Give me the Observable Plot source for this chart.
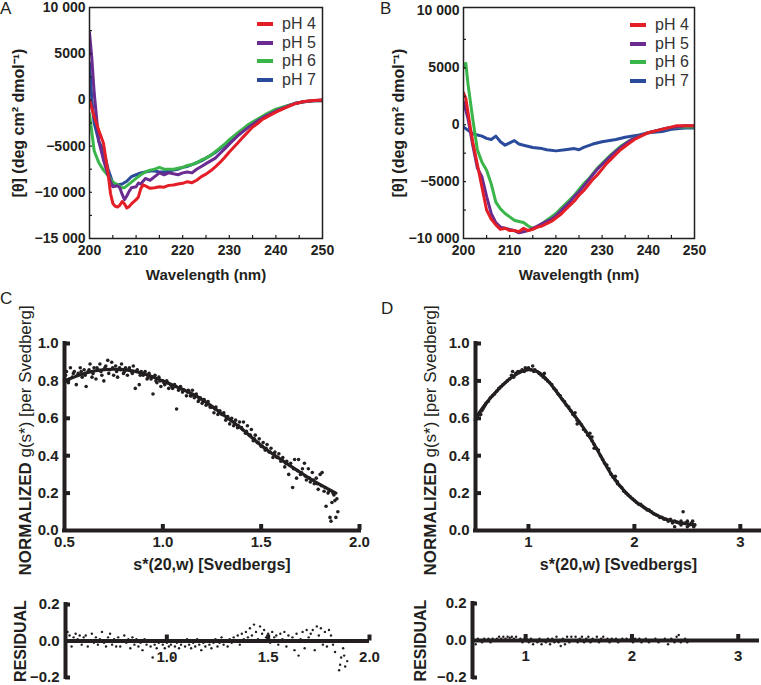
<!DOCTYPE html>
<html><head><meta charset="utf-8">
<script src="https://cdn.jsdelivr.net/npm/d3@7"></script>
<script src="https://cdn.jsdelivr.net/npm/@observablehq/plot@0.6"></script>
<style>
body{margin:0;background:#fff;}
#fig{position:relative;width:761px;height:685px;overflow:hidden;font-family:'Liberation Sans',Arial,Helvetica,sans-serif;color:#231f20;background:#fff;}
#fig svg{position:absolute;}
.letter{position:absolute;font-size:17px;line-height:17px;}
.legend{position:absolute;font-size:16px;line-height:18.5px;color:#333;}
.legend .row{display:flex;align-items:center;height:18.5px;}
.legend .sw{display:inline-block;width:16px;height:4px;margin-right:9px;}
</style></head>
<body><div id="fig"></div>
<script>
// ---------------- DATA ----------------
const phLabels = ["pH 4", "pH 5", "pH 6", "pH 7"];
const phColors = ["#e41e26", "#6a2c90", "#3ab54a", "#2a4b9b"];

const cdXTicks = [200, 210, 220, 230, 240, 250];
const cdXMinor = [205, 210, 215, 220, 225, 230, 235, 240, 245];
const aYDomain = [-15000, 10000];
const aYTicks = [10000, 5000, 0, -5000, -10000, -15000];
const aYMinor = [7500, 5000, 2500, 0, -2500, -5000, -7500, -10000, -12500];
const bYDomain = [-10000, 10300];
const bYTicks = [10000, 5000, 0, -5000, -10000];
const bYMinor = [7500, 5000, 2500, 0, -2500, -5000, -7500];

// Panel A  [wavelength, ellipticity]
const aPH4 = [[200,0],[201,-1800],[202,-3300],[203,-4700],[204,-8000],[204.5,-10100],[205,-11200],[205.5,-11500],[206,-11600],[206.5,-11400],[207,-11000],[207.5,-11250],[208,-11700],[208.5,-11550],[209,-11250],[210,-10800],[210.5,-10500],[211,-9600],[211.5,-9200],[212,-9300],[213,-9570],[214,-9500],[215,-9400],[216,-9450],[217,-9250],[218,-9200],[219,-9100],[220,-9030],[221,-8850],[222,-8960],[223,-8700],[224,-8300],[225,-8030],[226,-7670],[227,-7240],[228,-6770],[229,-6240],[230,-5630],[231,-5100],[232,-4550],[233,-4000],[234,-3480],[235,-2940],[236,-2580],[237,-2150],[238,-1860],[240,-1330],[242,-860],[244,-430],[246,-180],[248,-70],[250,0]];
const aPH5 = [[200,7300],[200.5,4500],[201,800],[202,-4500],[203,-6500],[204,-8200],[205,-9400],[206,-9300],[206.5,-9500],[207,-10200],[207.5,-10800],[208,-10400],[208.5,-9900],[209,-9500],[210,-9400],[210.5,-9000],[211,-9100],[212,-8500],[213,-8700],[214,-8300],[215,-7900],[216,-8100],[217,-7900],[218,-8000],[219,-8100],[220,-7900],[221,-7800],[222,-7900],[223,-7500],[224,-7200],[225,-6900],[226,-6600],[227,-6300],[228,-5800],[229,-5300],[230,-4800],[232,-3800],[234,-3000],[236,-2300],[238,-1700],[240,-1200],[242,-800],[244,-400],[246,-200],[248,-100],[250,-100]];
const aPH6 = [[200,-1500],[200.5,-3500],[201,-5500],[202,-6800],[203,-7600],[204,-8200],[205,-8900],[206,-9200],[207,-9500],[207.5,-9500],[208,-9300],[209,-8900],[210,-8500],[211,-8100],[212,-7800],[213,-7600],[214,-7500],[215,-7300],[216,-7500],[217,-7500],[218,-7500],[219,-7400],[220,-7300],[221,-7100],[222,-7000],[223,-6800],[224,-6500],[225,-6300],[226,-6000],[227,-5600],[228,-5200],[229,-4800],[230,-4300],[232,-3500],[234,-2700],[236,-2100],[238,-1500],[240,-1000],[242,-700],[244,-400],[246,-200],[248,-100],[250,-100]];
const aPH7 = [[200,4000],[200.5,0],[201,-2500],[202,-4500],[203,-5500],[204,-7500],[205,-9000],[206,-9200],[207,-9100],[208,-8800],[209,-8300],[210,-8100],[211,-7900],[212,-7800],[213,-7700],[214,-7700],[215,-7800],[216,-7800],[217,-7700],[218,-7600],[219,-7500],[220,-7300],[221,-7200],[222,-7000],[223,-6800],[224,-6600],[225,-6300],[226,-6000],[227,-5700],[228,-5300],[229,-4900],[230,-4500],[232,-3700],[234,-2900],[236,-2200],[238,-1600],[240,-1100],[242,-700],[244,-400],[246,-200],[248,-100],[250,0]];

// Panel B
const bPH4 = [[200,2800],[200.5,2300],[201,1000],[201.5,-300],[202,-1500],[203,-3500],[204,-5500],[205,-7500],[206,-8300],[207,-8800],[208,-9200],[209,-9100],[210,-9300],[211,-9300],[212,-9400],[213,-9100],[214,-9300],[215,-9200],[216,-9000],[217,-8900],[218,-8700],[219,-8500],[220,-8200],[221,-7900],[222,-7500],[223,-7100],[224,-6700],[225,-6200],[226,-5800],[227,-5300],[228,-4800],[229,-4400],[230,-3900],[231,-3400],[232,-3000],[233,-2600],[234,-2200],[235,-1900],[236,-1600],[237,-1300],[238,-1100],[239,-900],[240,-700],[242,-500],[244,-300],[246,-100],[248,-100],[250,-100]];
const bPH5 = [[200,2000],[201,500],[202,-1800],[203,-3800],[204,-4600],[205,-6300],[206,-7800],[207,-8600],[208,-9000],[209,-9100],[210,-9200],[211,-9300],[212,-9500],[213,-9400],[214,-9300],[215,-9100],[216,-8900],[217,-8700],[218,-8500],[219,-8300],[220,-8000],[221,-7600],[222,-7200],[223,-6800],[224,-6300],[225,-5900],[226,-5400],[227,-4900],[228,-4400],[229,-3900],[230,-3500],[232,-2700],[234,-2000],[236,-1400],[238,-1000],[240,-700],[242,-500],[244,-300],[246,-200],[248,-100],[250,-100]];
const bPH6 = [[200,5000],[200.5,5400],[201,3500],[202,500],[203,-2200],[204,-3300],[205,-4000],[206,-5200],[207,-6800],[208,-7400],[209,-7800],[210,-8100],[211,-8400],[212,-8500],[213,-8600],[214,-8900],[215,-9100],[216,-9000],[217,-8700],[218,-8400],[219,-8100],[220,-7800],[221,-7400],[222,-7000],[223,-6600],[224,-6200],[225,-5700],[226,-5200],[227,-4800],[228,-4300],[229,-3800],[230,-3400],[232,-2600],[234,-1900],[236,-1400],[238,-1000],[240,-700],[242,-500],[244,-300],[246,-200],[248,-200],[250,-200]];
const bPH7 = [[200,-200],[201,-500],[202,-800],[203,-900],[204,-1000],[205,-1200],[206,-1300],[207,-1000],[208,-1500],[209,-1800],[210,-1600],[211,-1400],[212,-1700],[213,-1800],[215,-2000],[217,-2100],[218,-2200],[220,-2300],[222,-2200],[224,-2100],[225,-2200],[226,-2000],[228,-1700],[230,-1500],[233,-1300],[235,-1100],[238,-900],[240,-700],[243,-600],[245,-400],[248,-300],[250,-300]];

// Panel C (sedimentation, broad)
const cXDomain = [0.5, 2.0];
const cXTicks = [0.5, 1.0, 1.5, 2.0];
const cXSquares = [1.0, 1.5, 2.0];
const gYTicks = [0, 0.2, 0.4, 0.6, 0.8, 1.0];
const gYSquares = [0.2, 0.4, 0.6, 0.8, 1.0];
const cFit = [[0.5,0.80],[0.6,0.84],[0.7,0.86],[0.8,0.86],[0.9,0.84],[1.0,0.80],[1.1,0.755],[1.2,0.70],[1.3,0.625],[1.4,0.545],[1.5,0.455],[1.6,0.38],[1.7,0.31],[1.8,0.245],[1.88,0.20]];
const cPoints = [[0.50,.81],[0.51,.85],[0.52,.79],[0.53,.87],[0.54,.82],[0.55,.85],[0.56,.78],[0.57,.84],[0.58,.87],[0.59,.82],[0.60,.86],[0.61,.77],[0.62,.85],[0.63,.89],[0.64,.82],[0.65,.87],[0.66,.81],[0.67,.86],[0.68,.89],[0.69,.83],[0.70,.80],[0.71,.88],[0.72,.91],[0.73,.86],[0.74,.90],[0.75,.83],[0.76,.88],[0.77,.82],[0.78,.87],[0.79,.89],[0.80,.84],[0.81,.87],[0.82,.83],[0.83,.87],[0.84,.85],[0.85,.88],[0.86,.76],[0.87,.86],[0.88,.78],[0.89,.85],[0.90,.83],[0.91,.85],[0.92,.81],[0.93,.84],[0.94,.81],[0.95,.73],[0.96,.83],[0.97,.79],[0.98,.82],[0.99,.77],[1.00,.80],[1.01,.78],[1.02,.80],[1.03,.76],[1.04,.78],[1.05,.76],[1.06,.78],[1.07,.65],[1.08,.75],[1.09,.77],[1.10,.74],[1.11,.75],[1.12,.72],[1.13,.75],[1.14,.72],[1.15,.75],[1.16,.71],[1.17,.73],[1.18,.69],[1.19,.71],[1.20,.68],[1.21,.70],[1.22,.67],[1.23,.69],[1.24,.66],[1.25,.66],[1.26,.63],[1.27,.66],[1.28,.62],[1.29,.64],[1.30,.62],[1.31,.63],[1.32,.59],[1.33,.61],[1.34,.57],[1.35,.60],[1.36,.56],[1.37,.59],[1.38,.55],[1.39,.58],[1.40,.55],[1.41,.58],[1.42,.52],[1.43,.56],[1.44,.51],[1.45,.54],[1.46,.48],[1.47,.51],[1.48,.47],[1.49,.49],[1.50,.45],[1.51,.47],[1.52,.43],[1.53,.46],[1.54,.42],[1.55,.44],[1.56,.39],[1.57,.42],[1.58,.39],[1.59,.41],[1.60,.37],[1.61,.39],[1.62,.34],[1.63,.37],[1.64,.30],[1.65,.36],[1.66,.23],[1.67,.38],[1.68,.28],[1.69,.38],[1.70,.30],[1.71,.33],[1.72,.36],[1.73,.27],[1.74,.33],[1.75,.26],[1.76,.31],[1.77,.25],[1.78,.28],[1.79,.22],[1.80,.30],[1.81,.31],[1.82,.21],[1.83,.13],[1.84,.20],[1.85,.07],[1.855,.05],[1.86,.15],[1.87,.19],[1.875,.16],[1.88,.07],[1.885,.17],[1.89,.10],
[0.505,.83],[0.525,.81],[0.545,.84],[0.565,.83],[0.585,.85],[0.605,.83],[0.625,.86],[0.645,.84],[0.665,.87],[0.685,.85],[0.705,.87],[0.725,.84],[0.745,.87],[0.765,.85],[0.785,.86],[0.805,.85],[0.825,.86],[0.845,.84],[0.865,.85],[0.885,.83],[0.905,.84],[0.925,.82],[0.945,.82],[0.965,.80],[0.985,.80],[1.005,.79],[1.025,.79],[1.045,.77],[1.065,.77],[1.085,.76],[1.105,.75],[1.125,.74],[1.145,.72],[1.165,.72],[1.185,.70],[1.205,.69],[1.225,.68],[1.245,.66],[1.265,.65],[1.285,.63],[1.305,.62],[1.325,.60],[1.345,.59],[1.365,.57],[1.385,.56],[1.405,.54],[1.425,.53],[1.445,.51],[1.465,.49],[1.485,.47],[1.505,.45],[1.525,.44],[1.545,.42],[1.565,.41],[1.585,.39],[1.605,.38],[1.625,.36],[1.645,.35],[1.665,.33],[1.685,.32],[1.705,.31],[1.725,.29],[1.745,.28],[1.765,.27],[1.785,.25],[1.805,.24],[1.825,.23],[1.845,.21],[1.865,.20]];
const cResTicks = [1.0, 1.5, 2.0];
const resYTicks = [-0.2, 0, 0.2];
const resYBracket = [-0.2, 0.2];
const cResidual = [[0.50,.08],[0.51,.05],[0.52,.03],[0.53,-.03],[0.54,.02],[0.55,.04],[0.56,.01],[0.57,.03],[0.58,-.02],[0.59,.02],[0.60,.03],[0.61,-.03],[0.62,.00],[0.63,.04],[0.64,-.01],[0.65,.02],[0.66,-.02],[0.67,.01],[0.68,.05],[0.69,-.01],[0.70,-.03],[0.71,.02],[0.72,.04],[0.73,-.02],[0.74,.01],[0.75,-.03],[0.76,.02],[0.77,-.03],[0.78,.00],[0.79,.03],[0.80,-.01],[0.81,.01],[0.82,-.04],[0.83,.02],[0.84,-.02],[0.85,.01],[0.86,-.03],[0.87,-.01],[0.88,-.05],[0.89,.01],[0.90,-.02],[0.91,.00],[0.92,-.03],[0.93,-.09],[0.94,-.02],[0.95,-.04],[0.96,-.01],[0.97,-.07],[0.98,-.02],[0.99,-.04],[1.00,-.01],[1.01,-.03],[1.02,-.02],[1.03,-.09],[1.04,-.03],[1.05,-.01],[1.06,-.04],[1.07,-.02],[1.08,.00],[1.09,-.03],[1.10,.01],[1.11,-.02],[1.12,-.04],[1.13,-.01],[1.14,-.03],[1.15,.01],[1.16,-.02],[1.17,-.05],[1.18,-.01],[1.19,-.03],[1.20,.00],[1.21,-.02],[1.22,-.04],[1.23,-.01],[1.24,.01],[1.25,-.03],[1.26,-.01],[1.27,.02],[1.28,-.02],[1.29,.00],[1.30,-.03],[1.31,.01],[1.32,-.01],[1.33,.02],[1.34,.00],[1.35,.03],[1.36,-.02],[1.37,.04],[1.38,.01],[1.39,.05],[1.40,.02],[1.41,.07],[1.42,.03],[1.43,.09],[1.44,.05],[1.45,.01],[1.46,.08],[1.47,.04],[1.48,.06],[1.49,.02],[1.50,.04],[1.51,-.01],[1.52,.05],[1.53,.02],[1.54,.03],[1.55,-.02],[1.56,.04],[1.57,.01],[1.58,.05],[1.59,-.03],[1.60,.03],[1.61,.00],[1.62,.02],[1.63,-.05],[1.64,.04],[1.65,-.08],[1.66,.01],[1.67,.05],[1.68,-.04],[1.69,.06],[1.70,.02],[1.71,.04],[1.72,.06],[1.73,-.05],[1.74,.08],[1.75,.03],[1.76,.07],[1.77,-.02],[1.78,.05],[1.79,-.03],[1.80,.06],[1.81,.03],[1.82,-.02],[1.83,-.06],[1.84,.00],[1.85,-.16],[1.855,-.13],[1.86,-.09],[1.87,-.04],[1.875,-.08],[1.88,-.14],[1.89,-.11]];

// Panel D (sedimentation, narrow)
const dXDomain = [0.5, 3.2];
const dXTicks = [1, 2, 3];
const dFit = [[0.5,0.60],[0.6,0.68],[0.7,0.745],[0.8,0.80],[0.9,0.84],[1.0,0.86],[1.1,0.845],[1.2,0.79],[1.3,0.715],[1.4,0.64],[1.5,0.565],[1.6,0.48],[1.7,0.38],[1.8,0.285],[1.9,0.215],[2.0,0.16],[2.1,0.12],[2.2,0.085],[2.3,0.06],[2.4,0.045],[2.5,0.035],[2.57,0.03]];
const dPoints = [[0.50,.59],[0.51,.61],[0.52,.60],[0.53,.62],[0.54,.63],[0.55,.62],[0.56,.64],[0.57,.65],[0.58,.66],[0.59,.67],[0.60,.68],[0.62,.69],[0.64,.71],[0.66,.72],[0.68,.73],[0.70,.745],[0.72,.76],[0.74,.77],[0.76,.78],[0.78,.79],[0.80,.80],[0.82,.81],[0.84,.83],[0.85,.85],[0.86,.82],[0.88,.84],[0.90,.85],[0.92,.85],[0.94,.86],[0.96,.85],[0.97,.87],[0.98,.86],[1.00,.87],[1.02,.86],[1.04,.88],[1.05,.85],[1.06,.86],[1.08,.85],[1.10,.84],[1.12,.83],[1.14,.82],[1.15,.84],[1.16,.81],[1.18,.80],[1.20,.79],[1.22,.78],[1.24,.76],[1.26,.75],[1.28,.73],[1.30,.72],[1.32,.70],[1.34,.69],[1.36,.67],[1.38,.66],[1.40,.64],[1.42,.62],[1.44,.61],[1.44,.63],[1.46,.59],[1.46,.57],[1.48,.58],[1.50,.565],[1.52,.54],[1.54,.53],[1.56,.51],[1.58,.50],[1.58,.52],[1.60,.48],[1.60,.50],[1.62,.46],[1.62,.44],[1.64,.44],[1.66,.43],[1.68,.40],[1.70,.38],[1.72,.36],[1.74,.35],[1.76,.33],[1.78,.30],[1.80,.285],[1.82,.27],[1.82,.29],[1.84,.26],[1.84,.25],[1.86,.24],[1.88,.23],[1.90,.21],[1.92,.20],[1.94,.19],[1.96,.18],[1.98,.17],[2.00,.16],[2.02,.15],[2.04,.14],[2.06,.14],[2.08,.13],[2.10,.12],[2.12,.11],[2.14,.11],[2.16,.10],[2.18,.09],[2.20,.085],[2.22,.08],[2.24,.07],[2.26,.07],[2.28,.06],[2.30,.06],[2.32,.05],[2.34,.06],[2.36,.04],[2.38,.05],[2.38,.02],[2.40,.045],[2.42,.04],[2.44,.05],[2.44,.03],[2.46,.10],[2.48,.04],[2.50,.05],[2.50,.02],[2.52,.03],[2.54,.04],[2.55,.05],[2.56,.02],[2.57,.03]];
const dResTicks = [1, 2, 3];
const dResidual = [[0.50,-.01],[0.52,.00],[0.53,-.02],[0.55,.01],[0.57,.00],[0.59,-.01],[0.61,.01],[0.63,.00],[0.65,.01],[0.67,-.01],[0.69,.01],[0.71,.00],[0.73,.01],[0.75,.02],[0.77,.01],[0.79,.02],[0.81,.01],[0.83,.02],[0.85,.015],[0.87,.02],[0.89,.01],[0.91,.02],[0.93,.00],[0.95,.01],[0.97,-.01],[0.99,.01],[1.01,.00],[1.03,-.01],[1.05,.01],[1.07,-.02],[1.09,.00],[1.11,-.01],[1.13,.01],[1.15,-.02],[1.17,.00],[1.19,-.01],[1.21,.01],[1.23,-.02],[1.25,.01],[1.27,-.01],[1.29,.02],[1.31,-.01],[1.33,-.03],[1.35,.01],[1.37,-.02],[1.39,.02],[1.41,-.01],[1.43,.02],[1.45,.00],[1.47,.02],[1.49,-.01],[1.51,.01],[1.53,.02],[1.55,-.01],[1.57,.01],[1.59,.02],[1.61,-.01],[1.63,.01],[1.65,.00],[1.67,.02],[1.69,-.01],[1.71,.01],[1.73,.02],[1.75,.00],[1.77,.01],[1.79,-.01],[1.81,.01],[1.83,.00],[1.85,.01],[1.87,-.01],[1.89,.00],[1.91,.01],[1.93,.00],[1.95,.01],[1.97,.00],[1.99,.01],[2.01,-.01],[2.03,.01],[2.05,.00],[2.07,.01],[2.09,-.01],[2.11,.00],[2.13,.01],[2.16,-.01],[2.19,.00],[2.22,.01],[2.25,-.01],[2.28,.00],[2.31,.01],[2.34,-.02],[2.37,.01],[2.40,-.01],[2.42,.02],[2.44,.03],[2.46,-.01],[2.48,.00],[2.50,.01],[2.52,-.01],[2.55,.00]];

// ---------------- DRAW ----------------
const INK = "#231f20";
const FONT = "'Liberation Sans', Arial, Helvetica, sans-serif";
const fig = document.getElementById("fig");
const style = {fontFamily: FONT, color: INK, background: "transparent", overflow: "visible"};
const X = d => d[0], Y = d => d[1];

function place(node, left, top) { node.style.left = left + "px"; node.style.top = top + "px"; fig.appendChild(node); }

const cdFmt = d => (d < 0 ? "\u2212" : "") + (Math.abs(d) >= 10000 ? (Math.abs(d) / 1000) + " 000" : String(Math.abs(d)));

// inward tick helpers (drawn through the scales)
const xTicksUp = (ticks, y0, len, sw) => Plot.ruleX(ticks, {x: d => d, y1: () => y0, y2: () => y0, insetTop: -len, stroke: INK, strokeWidth: sw});
const yTicksRight = (ticks, x0, len, sw) => Plot.ruleY(ticks, {y: d => d, x1: () => x0, x2: () => x0, insetRight: -len, stroke: INK, strokeWidth: sw});

function cdPanel(series, yDomain, yTicks, yMinor, o) {
  return Plot.plot({
    width: o.width, height: 280,
    marginLeft: o.ml, marginRight: o.mr, marginTop: 7, marginBottom: 42,
    x: {domain: [200, 250]}, y: {domain: yDomain},
    style,
    marks: [
      Plot.axisX(cdXTicks, {tickSize: 0, tickPadding: 7, fontSize: 14, fontWeight: "bold", label: null}),
      Plot.axisY(yTicks, {tickSize: 0, tickPadding: 4, tickFormat: cdFmt, fontSize: 14, fontWeight: "bold", label: null}),
      ...[3, 2, 1, 0].map(i => Plot.line(series[i], {x: X, y: Y, stroke: phColors[i], strokeWidth: 3, strokeLinejoin: "round", clip: true})),
      xTicksUp(cdXMinor, yDomain[0], 3, 1.2),
      yTicksRight(yMinor, 200, 3, 1.2),
      Plot.frame({stroke: INK, strokeWidth: 1.5}),
      Plot.text(["Wavelength (nm)"], {text: d => d, frameAnchor: "bottom", lineAnchor: "middle", dy: 37, fontSize: 15, fontWeight: "bold"}),
      Plot.text(["[θ] (deg cm² dmol⁻¹)"], {text: d => d, frameAnchor: "left", textAnchor: "middle", lineAnchor: "middle", dx: o.ldx, rotate: -90, fontSize: 16, fontWeight: "bold"})
    ]
  });
}

function sedPanel(points, fit, xDomain, xLabels, xSquares, xFmt, o) {
  return Plot.plot({
    width: o.width, height: 300,
    marginLeft: o.ml, marginRight: o.mr, marginTop: 63, marginBottom: 50,
    x: {domain: xDomain}, y: {domain: [0, 1]},
    style,
    marks: [
      Plot.dot(points, {x: X, y: Y, r: 1.8, fill: INK, stroke: null}),
      Plot.line(fit, {x: X, y: Y, stroke: INK, strokeWidth: 3.2, curve: "natural"}),
      Plot.ruleX([xDomain[0]], {stroke: INK, strokeWidth: 4, strokeLinecap: "square"}),
      Plot.ruleY([0], {stroke: INK, strokeWidth: 4, strokeLinecap: "square"}),
      xTicksUp(xSquares, 0, 6, 4),
      yTicksRight(gYSquares, xDomain[0], 6, 4),
      Plot.axisX(xLabels, {tickSize: 0, tickPadding: 6, tickFormat: xFmt, fontSize: 15, fontWeight: "bold", label: null}),
      Plot.axisY(gYTicks, {tickSize: 0, tickPadding: 6, tickFormat: ".1f", fontSize: 15, fontWeight: "bold", label: null}),
      Plot.text(["s*(20,w) [Svedbergs]"], {text: d => d, frameAnchor: "bottom", lineAnchor: "middle", dy: 34, fontSize: 16, fontWeight: "bold"}),
      Plot.text(["NORMALIZED"], {text: d => d, frameAnchor: "bottom-left", lineAnchor: "middle", dx: o.ldx, dy: 45, rotate: -90, textAnchor: "start", fontSize: 17, fontWeight: "bold"}),
      Plot.text(["g(s*) [per Svedberg]"], {text: d => d, frameAnchor: "bottom-left", lineAnchor: "middle", dx: o.ldx, dy: 45 - 118, rotate: -90, textAnchor: "start", fontSize: 17})
    ]
  });
}

function resPanel(points, xDomain, xTicks, xFmt, o) {
  return Plot.plot({
    width: o.width, height: 105,
    marginLeft: o.ml, marginRight: o.mr, marginTop: o.mt, marginBottom: o.mb,
    x: {domain: xDomain, axis: null}, y: {domain: [-0.2, 0.2]},
    style,
    marks: [
      Plot.dot(points, {x: X, y: Y, r: 1.2, fill: INK, stroke: null}),
      Plot.ruleY([0], {stroke: INK, strokeWidth: 4}),
      Plot.ruleX([xDomain[0]], {stroke: INK, strokeWidth: 4, strokeLinecap: "square"}),
      yTicksRight(resYBracket, xDomain[0], 5, 4),
      xTicksUp(xTicks, 0, 6, 4),
      Plot.axisY(resYTicks, {tickSize: 0, tickPadding: 6, tickFormat: ".1f", fontSize: 15, fontWeight: "bold", label: null}),
      Plot.text(xTicks, {x: d => d, y: 0, text: xFmt, dy: 16, fontSize: 15, fontWeight: "bold"}),
      Plot.text(["RESIDUAL"], {text: d => d, frameAnchor: "left", textAnchor: "middle", lineAnchor: "middle", dx: o.ldx, rotate: -90, fontSize: 16, fontWeight: "bold"})
    ]
  });
}

place(cdPanel([aPH4, aPH5, aPH6, aPH7], aYDomain, aYTicks, aYMinor, {width: 380, ml: 89, mr: 58, ldx: -71}), 0, 0);
place(cdPanel([bPH4, bPH5, bPH6, bPH7], bYDomain, bYTicks, bYMinor, {width: 381, ml: 83, mr: 67, ldx: -65}), 380, 0);
place(sedPanel(cPoints, cFit, cXDomain, cXTicks, cXSquares, d3.format(".1f"), {width: 380, ml: 64, mr: 21, ldx: -39}), 0, 280);
place(sedPanel(dPoints, dFit, dXDomain, dXTicks, dXTicks, d3.format("d"), {width: 381, ml: 95, mr: 0, ldx: -45}), 380, 280);
place(resPanel(cResidual, cXDomain, cResTicks, d3.format(".1f"), {width: 380, ml: 65, mr: 11, mt: 24, mb: 8, ldx: -45}), 0, 580);
place(resPanel(dResidual, dXDomain, dResTicks, d3.format("d"), {width: 381, ml: 92, mr: 2, mt: 23, mb: 8, ldx: -52}), 380, 580);

// legends
function legend(left, top) {
  const div = document.createElement("div");
  div.className = "legend";
  div.style.left = left + "px"; div.style.top = top + "px";
  phLabels.forEach((t, i) => {
    const row = document.createElement("div"); row.className = "row";
    const sw = document.createElement("span"); sw.className = "sw"; sw.style.background = phColors[i];
    row.appendChild(sw); row.appendChild(document.createTextNode(t));
    div.appendChild(row);
  });
  fig.appendChild(div);
}
legend(257, 15);
legend(630, 16);

// panel letters
[["A", 0, 0], ["B", 380, 0], ["C", 0, 290], ["D", 381, 300]].forEach(([t, l, tp]) => {
  const d = document.createElement("div"); d.className = "letter"; d.textContent = t;
  d.style.left = l + "px"; d.style.top = tp + "px"; fig.appendChild(d);
});
</script>
</body></html>
